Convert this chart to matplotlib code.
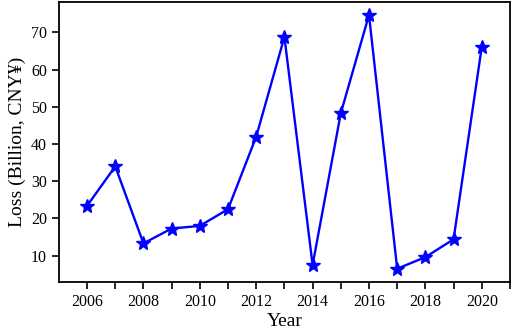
import numpy as np
import matplotlib
matplotlib.use('Agg')
import matplotlib.pyplot as plt

plt.rcParams['font.family'] = ['Liberation Serif', 'DejaVu Serif']

# data
years = [2006, 2007, 2008, 2009, 2010, 2011, 2012, 2013,
         2014, 2015, 2016, 2017, 2018, 2019, 2020]
loss = [23.4, 34.0, 13.3, 17.3, 18.0, 22.5, 42.0, 68.8,
        7.5, 48.3, 74.7, 6.5, 9.6, 14.4, 66.1]
xticks = [2006, 2008, 2010, 2012, 2014, 2016, 2018, 2020]
yticks = [10, 20, 30, 40, 50, 60, 70]

fig = plt.figure(figsize=(5.12, 3.35), dpi=100)
ax = fig.add_axes([0.115, 0.158, 0.881, 0.835])

ax.plot(years, loss, color='blue', linewidth=1.7, marker='*', markersize=10)

ax.set_xlim(2005, 2021)
ax.set_ylim(2.9, 78.1)
ax.set_xticks(xticks)
ax.set_xticks(years + [2021], minor=True)
ax.set_yticks(yticks)
ax.tick_params(axis='both', which='both', direction='out', labelsize=11.5, width=1.2)
ax.tick_params(which='major', length=5)
ax.tick_params(which='minor', length=5)
for s in ax.spines.values():
    s.set_linewidth(1.3)

ax.set_xlabel('Year', fontsize=14, labelpad=2)
ax.set_ylabel('Loss (Billion, CNY¥)', fontsize=14, labelpad=4)

fig.savefig('out.png', dpi=100)
